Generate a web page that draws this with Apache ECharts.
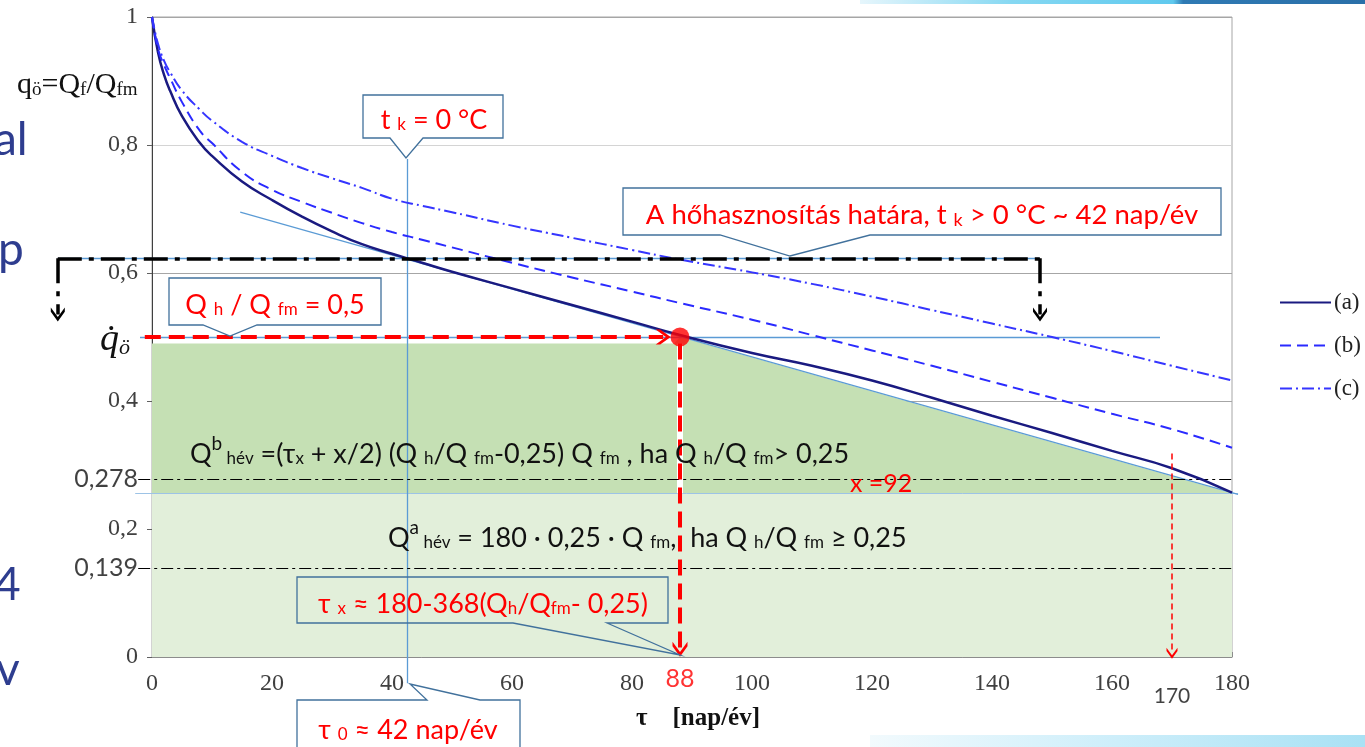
<!DOCTYPE html>
<html><head><meta charset="utf-8">
<script src="https://cdn.jsdelivr.net/npm/echarts@6/dist/echarts.min.js"></script>
<style>html,body{margin:0;padding:0;background:#fff}#c{width:1365px;height:747px}</style>
</head><body><div id="c"></div>
<script>
// ---------- data ----------
const days   = [0,1,2,3,5,8,10,15,20,25,30,35,40,45,50,60,70,80,88,100,110,120,130,140,150,160,170,180];
const curveA = [1.0,0.945,0.91,0.885,0.845,0.803,0.783,0.743,0.714,0.688,0.665,0.645,0.63,0.616,0.602,0.576,0.55,0.524,0.503,0.475,0.455,0.432,0.405,0.377,0.35,0.322,0.295,0.257];
const curveB = [1.0,0.95,0.925,0.905,0.867,0.822,0.803,0.758,0.73,0.711,0.694,0.678,0.664,0.652,0.64,0.616,0.593,0.571,0.553,0.527,0.503,0.479,0.455,0.43,0.405,0.38,0.356,0.327];
const curveC = [1.0,0.958,0.932,0.914,0.885,0.855,0.838,0.805,0.783,0.764,0.748,0.733,0.716,0.705,0.695,0.674,0.655,0.636,0.621,0.601,0.583,0.563,0.542,0.521,0.5,0.478,0.455,0.432];
const seriesNames = ['(a)','(b)','(c)'];
const xTicks = {min:0, max:180, interval:20};
const yTicks = {min:0, max:1, interval:0.2};
const qRatio = 0.5;          // Q_h/Q_fm
const tauX = 88;             // tau_x
const tau0 = 42.5;           // tau_0
const tauEnd = 170;
const limitLevel = 0.623;    // t_k = 0 °C level
const limitDay = 148;
const baseLevel = 0.256;     // 0.25 level
const refLevels = [0.278, 0.139];
const tangentLine = [[14.7,0.695],[181,0.254]];
const darkGreenPoly = [[0,0.49],[87,0.49],[88,0.5],[180,baseLevel]];

// ---------- helpers ----------
const F = 'Lato, "DejaVu Sans", sans-serif';
const SERIF = '"Liberation Serif", "DejaVu Serif", serif';
const zip = (xs, ys) => xs.map((x,i)=>[x, ys[i]]);
const chevron = 'path://M5,0 L10,7 L10,10 L5,3.2 L0,10 L0,7 Z';
const guideBlue = '#5b9bd5';

function callout(box, ptr, fill){
  const [x0,y0,x1,y1] = box;
  let pts;
  if (ptr.side === 'bottom') pts = [[x0,y0],[x1,y0],[x1,y1],[ptr.b,y1],ptr.tip,[ptr.a,y1],[x0,y1]];
  else pts = [[x0,y0],[ptr.a,y0],ptr.tip,[ptr.b,y0],[x1,y0],[x1,y1],[x0,y1]];
  return {type:'polygon', z:100, shape:{points:pts}, style:{fill: fill, stroke:'#41719c', lineWidth:1.3}};
}
function txt(x, y, text, rich, extra){
  return {type:'text', z:101, x, y, style:Object.assign({text, rich, align:'center', verticalAlign:'middle'}, extra||{})};
}
const red = '#ff0000';
const mkRich = (fs, col) => ({
  n:{fontSize:fs, fontFamily:F, fill:col, lineHeight:fs+6, verticalAlign:'bottom'},
  s:{fontSize:Math.round(fs*0.64), fontFamily:F, fill:col, lineHeight:fs+1, verticalAlign:'bottom'},
  p:{fontSize:Math.round(fs*0.7), fontFamily:F, fill:col, lineHeight:fs+6, verticalAlign:'top'}});

const chart = echarts.init(document.getElementById('c'), null, {renderer:'canvas'});

const lineSeries = (name, ys, color, width, type) => ({
  name, type:'line', data: zip(days, ys), smooth:0.5, symbol:'none', showSymbol:false, z:5,
  lineStyle:{color, width, type}, itemStyle:{color}
});
const seg = (coords, style, extra) => Object.assign({
  type:'lines', coordinateSystem:'cartesian2d', polyline:false, clip:false, silent:true, z:4,
  data: [{coords, lineStyle: Object.assign({opacity:1, curveness:0}, style)}],
  lineStyle: Object.assign({opacity:1, curveness:0}, style),
  itemStyle:{color: style.color},
  symbol:'none', effect:{show:false}
}, extra||{});
const comma = v => String(v).replace('.', ',');

const option = {
  animation:false,
  backgroundColor:'#ffffff',
  grid:{left:152, right:133, top:17, bottom:90, show:true, backgroundColor:'#ffffff', borderColor:'#a6a6a6', borderWidth:1},
  xAxis:{type:'value', min:xTicks.min, max:xTicks.max, interval:xTicks.interval,
    axisLine:{show:true, onZero:false, lineStyle:{color:'#8c8c8c', width:1}},
    axisTick:{show:true, inside:true, length:5, lineStyle:{color:'#8c8c8c'}},
    axisLabel:{fontFamily:SERIF, fontSize:24, color:'#404040', margin:15},
    splitLine:{show:false}},
  yAxis:{type:'value', min:yTicks.min, max:yTicks.max, interval:yTicks.interval,
    axisLine:{show:true, onZero:false, lineStyle:{color:'#404040', width:1}},
    axisTick:{show:true, inside:false, length:5, lineStyle:{color:'#606060'}},
    axisLabel:{fontFamily:SERIF, fontSize:24, color:'#404040', margin:14, formatter: comma},
    splitLine:{show:true, lineStyle:{color:['rgba(0,0,0,0)','rgba(0,0,0,0)','#a6a6a6','#a6a6a6','#d4d4d4','#a6a6a6'], width:1}}},
  legend:{orient:'vertical', left:1274, top:286, itemWidth:51, itemHeight:22, itemGap:20, itemStyle:{opacity:0},
    data:seriesNames, textStyle:{fontFamily:SERIF, fontSize:23, color:'#222', padding:[0,0,0,-2]}},
  series:[
    // shaded regions
    {type:'line', data:darkGreenPoly, symbol:'none', z:1, lineStyle:{width:0}, areaStyle:{color:'#c5e0b4', opacity:1}, silent:true},
    {type:'line', data:[[0,baseLevel],[180,baseLevel]], symbol:'none', z:1, lineStyle:{width:0}, areaStyle:{color:'#e2efda', opacity:1}, silent:true},
    seg([[-2.8,baseLevel],[181,baseLevel]], {color:'#9dc3e6', width:1}, {z:2}),
    seg([[tauX,0.49],[tauX,baseLevel]], {color:'#ffffff', width:6}, {z:2}),
    // thin blue guide lines
    seg(tangentLine, {color:guideBlue, width:1.2}, {z:3}),
    seg([[-2,qRatio],[168,qRatio]], {color:guideBlue, width:1.3}, {z:3}),
    seg([[-15.7,limitLevel],[limitDay,limitLevel]], {color:guideBlue, width:1.3}, {z:3}),
    seg([[tau0,0.778],[tau0,-0.041]], {color:guideBlue, width:1.3}, {z:3}),
    // reference dash-dot lines
    seg([[-2.3,refLevels[0]],[180.5,refLevels[0]]], {color:'#000', width:1.2, type:[12,4,3,4]}, {z:3}),
    seg([[-2.3,refLevels[1]],[180.5,refLevels[1]]], {color:'#000', width:1.2, type:[12,4,3,4]}, {z:3}),
    // curves
    lineSeries(seriesNames[0], curveA, '#1a1a80', 2.5, 'solid'),
    lineSeries(seriesNames[1], curveB, '#2a2aff', 2, [11,6]),
    lineSeries(seriesNames[2], curveC, '#3535ff', 2, [12,4,2,4]),
    // black bracket
    seg([[-15.7,limitLevel],[limitDay,limitLevel]], {color:'#000', width:3.5, type:[24,7,5,7]}, {z:6}),
    seg([[-15.7,limitLevel],[-15.7,0.535]], {color:'#000', width:3.5, type:[25,8,5,8]}, {symbol:['none', chevron], symbolSize:14, z:6}),
    seg([[limitDay,limitLevel],[limitDay,0.535]], {color:'#000', width:3.5, type:[25,8,5,8]}, {symbol:['none', chevron], symbolSize:14, z:6}),
    // red arrows
    seg([[-1.2,qRatio],[85.2,qRatio]], {color:red, width:4, type:[16,8]}, {symbol:['none', chevron], symbolSize:15, z:7}),
    seg([[tauX,0.49],[tauX,0.012]], {color:red, width:4, type:[16,8]}, {symbol:['none', chevron], symbolSize:15, z:7}),
    seg([[tauEnd,0.318],[tauEnd,0.006]], {color:red, width:1.5, type:[6,4]}, {symbol:['none', chevron], symbolSize:11, z:7}),
    // red dot
    {type:'scatter', data:[[tauX, qRatio]], symbolSize:19, itemStyle:{color:red}, z:8, silent:true},
    // labels attached to data
    {type:'scatter', data:refLevels.map(v=>[0,v]), symbolSize:0, clip:false, z:9, silent:true,
      label:{show:true, position:'left', distance:14, fontFamily:F, fontSize:25, color:'#111', formatter:p=>comma(p.value[1])}},
    {type:'scatter', data:[[tauX,0]], symbolSize:0, clip:false, z:9, silent:true,
      label:{show:true, position:'bottom', distance:9, fontFamily:F, fontSize:25, color:red, formatter:p=>String(p.value[0])}},
    {type:'scatter', data:[[tauEnd,0]], symbolSize:0, clip:false, z:9, silent:true,
      label:{show:true, position:'bottom', distance:29, fontFamily:F, fontSize:21, color:'#111', formatter:p=>String(p.value[0])}}
  ],
  graphic:[
    // slide decorations
    {type:'rect', z:0, shape:{x:860,y:0,width:505,height:4}, style:{fill:{type:'linear',x:0,y:0,x2:1,y2:0,colorStops:[{offset:0,color:'#e6f6fc'},{offset:0.3,color:'#86d8f2'},{offset:0.62,color:'#5fc9ee'},{offset:0.64,color:'#2f7ab4'},{offset:1,color:'#2a6fa8'}]}}},
    {type:'rect', z:0, shape:{x:870,y:735,width:495,height:12}, style:{fill:{type:'linear',x:0,y:0,x2:1,y2:0,colorStops:[{offset:0,color:'#f2fafd'},{offset:0.5,color:'#cdeefa'},{offset:1,color:'#a9e1f4'}]}}},
    {type:'text', z:0, x:-6, y:140, style:{text:'al', fontFamily:F, fontSize:46, fill:'#2e3d8f', verticalAlign:'middle'}},
    {type:'text', z:0, x:-2, y:250, style:{text:'p', fontFamily:F, fontSize:46, fill:'#2e3d8f', verticalAlign:'middle'}},
    {type:'text', z:0, x:-6, y:585, style:{text:'4', fontFamily:F, fontSize:46, fill:'#2e3d8f', verticalAlign:'middle'}},
    {type:'text', z:0, x:-4, y:670, style:{text:'v', fontFamily:F, fontSize:46, fill:'#2e3d8f', verticalAlign:'middle'}},
    // axis names
    {type:'text', z:101, x:17, y:84, style:{text:'{n|q}{s|ö}{n|=Q}{s|f}{n|/Q}{s|fm}', align:'left', verticalAlign:'middle',
      rich:{n:{fontSize:30,fontFamily:SERIF,fill:'#111',lineHeight:32,verticalAlign:'bottom'}, s:{fontSize:19,fontFamily:SERIF,fill:'#111',lineHeight:27,verticalAlign:'bottom'}}}},
    txt(115, 338, '{n|q̇}{s|ö}', {n:{fontSize:38,fontFamily:SERIF,fontStyle:'italic',fill:'#111',lineHeight:42,verticalAlign:'bottom'}, s:{fontSize:22,fontFamily:SERIF,fontStyle:'italic',fill:'#111',lineHeight:32,verticalAlign:'bottom'}}),
    txt(698, 719, 'τ    [nap/év]', null, {fontFamily:SERIF, fontSize:25, fontWeight:'bold', fill:'#111'}),
    // callouts
    callout([363,95,503,138], {side:'bottom', a:390, b:423, tip:[406,158]}, '#ffffff'),
    txt(434, 117, '{n|t }{s|k}{n| = 0 °C}', mkRich(27, red)),
    callout([623,188,1221,235], {side:'bottom', a:720, b:870, tip:[790,256]}, '#ffffff'),
    txt(922, 212, '{n|A hőhasznosítás határa, t }{s|k}{n| > 0 °C ~ 42 nap/év}', mkRich(27.5, red)),
    callout([169,278,381,325], {side:'bottom', a:203, b:257, tip:[230,336]}, '#ffffff'),
    txt(275, 302, '{n|Q }{s|h}{n| / Q }{s|fm}{n| = 0,5}', mkRich(27, red)),
    callout([297,577,668,623], {side:'bottom', a:513, b:607, tip:[680,655]}, 'rgba(0,0,0,0)'),
    txt(483, 601, '{n|τ }{s|x}{n| ≈ 180-368(Q}{s|h}{n|/Q}{s|fm}{n|- 0,25)}', mkRich(27, red)),
    callout([297,700,520,760], {side:'top', a:427, b:480, tip:[410,684]}, '#ffffff'),
    txt(408, 727, '{n|τ }{s|0}{n| ≈ 42 nap/év}', mkRich(27, red)),
    // formulas
    {type:'text', z:101, x:190, y:451, style:{text:'{n|Q}{p|b}{s| hév}{n| =(τ}{s|x}{n| + x/2) (Q }{s|h}{n|/Q }{s|fm}{n|-0,25) Q }{s|fm}{n| , ha Q }{s|h}{n|/Q }{s|fm}{n|> 0,25}', rich:mkRich(27, '#111'), align:'left', verticalAlign:'middle'}},
    {type:'text', z:101, x:388, y:535, style:{text:'{n|Q}{p|a}{s| hév}{n| = 180 · 0,25 · Q }{s|fm}{n|,  ha Q }{s|h}{n|/Q }{s|fm}{n| ≥ 0,25}', rich:mkRich(27, '#111'), align:'left', verticalAlign:'middle'}},
    {type:'text', z:101, x:850, y:484, style:{text:'x =92', fontFamily:F, fontSize:25, fill:red, verticalAlign:'middle'}}
  ]
};
chart.setOption(option);
</script></body></html>
